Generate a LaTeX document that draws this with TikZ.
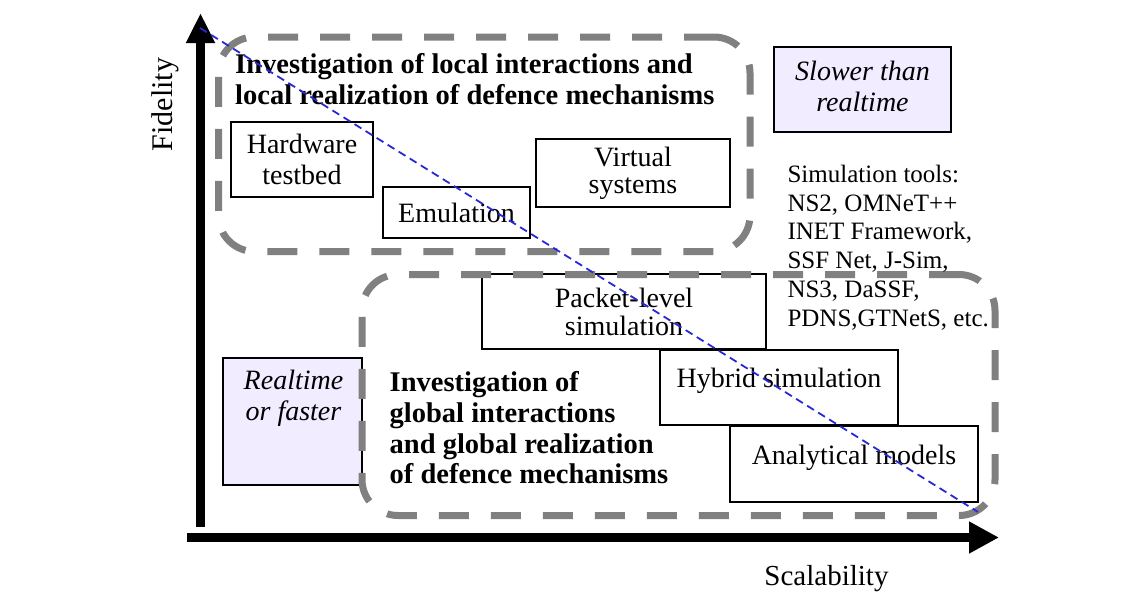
\documentclass[tikz,border=0pt]{standalone}
\usepackage{fontspec}
\setmainfont{Liberation Serif}
\usetikzlibrary{arrows.meta}
\definecolor{zonegray}{RGB}{128,128,128}
\definecolor{lav}{RGB}{241,236,255}
\definecolor{trend}{RGB}{40,40,215}
\tikzset{
  zone/.style={draw=zonegray, line width=7pt, dash pattern=on 30pt off 22pt,
    rounded corners=36pt, inner sep=0pt},
  tool/.style={draw=black, line width=2.2pt, inner sep=0pt, align=center,
    font=\rmfamily\fontsize{28}{28}\selectfont},
  single/.style={text height=19pt, text depth=19pt},
  speed/.style={draw=black, line width=2.2pt, fill=lav, inner sep=0pt},
  speedtext/.style={inner sep=0pt, align=center,
    font=\rmfamily\fontsize{28}{31}\selectfont\itshape},
  heading/.style={font=\rmfamily\fontsize{28.5}{30.7}\selectfont\bfseries,
    align=left, inner sep=0pt, anchor=north west},
  note/.style={font=\rmfamily\fontsize{25}{28.7}\selectfont, align=left,
    inner sep=0pt, anchor=north west},
  axislabel/.style={font=\rmfamily\fontsize{29}{34}\selectfont, inner sep=0pt,
    anchor=base},
  trendline/.style={draw=trend, line width=1.8pt, dash pattern=on 8pt off 5pt},
}
\begin{document}
\begin{tikzpicture}[x=1pt,y=-1pt]
\useasboundingbox (0,0) rectangle (1138,592);

% simulation approaches
\node[tool, font=\rmfamily\fontsize{28}{31}\selectfont, minimum width=142, minimum height=75] (hw) at (302,159.5) {Hardware\\testbed};
\node[tool, minimum width=147, minimum height=51] (emu) at (456.5,212.5) {Emulation};
\node[tool, font=\rmfamily\fontsize{28}{27}\selectfont, minimum width=194, minimum height=68] (virt) at (633,173) {Virtual\\systems};
\node[tool, minimum width=284, minimum height=75] (pkt) at (624,311.5) {Packet-level\\simulation};
\node[tool, single, minimum width=238, minimum height=75] (hyb) at (779,387.5) {Hybrid simulation};
\node[tool, single, minimum width=248, minimum height=76] (ana) at (854,464) {Analytical models};

% speed classes
\node[speed, minimum width=177, minimum height=85] (slow) at (862.5,89.5) {};
\node[speedtext] (slowt) at (862.5,86) {Slower than\\realtime};
\node[speed, minimum width=139, minimum height=127] (fast) at (292.5,421.5) {};
\node[speedtext] (fastt) at (293.5,398.5) {Realtime\\or faster};

% zones of local and global investigation, over the box outlines
\node[zone, minimum width=531.5, minimum height=214.5] (local) at (484.25,144.25) {};
\node[zone, minimum width=633, minimum height=241] (global) at (678.5,395) {};

% headings and tool list
\node[heading] (lochead) at (235,53.2) {Investigation of local interactions and\\local realization of defence mechanisms};
\node[heading] (globhead) at (389.5,371.5) {Investigation of\\global interactions\\and global realization\\of defence mechanisms};
\node[note] (tools) at (787.3,165) {Simulation tools:\\NS2, OMNeT++\\INET Framework,\\SSF Net, J-Sim,\\NS3, DaSSF,\\PDNS,GTNetS, etc.};

% axes
\coordinate (ybot) at (200.5,527);
\coordinate (ytop) at (200.5,13);
\coordinate (xl) at (187,537.5);
\coordinate (xr) at (999,537.5);
\draw[line width=9pt, -{Triangle[width=27pt,length=30pt]}] (ybot) -- (ytop);
\draw[line width=9.5pt, -{Triangle[width=30pt,length=30pt]}] (xl) -- (xr);
\node[axislabel, font=\rmfamily\fontsize{30}{34}\selectfont, rotate=90] (fid) at (172.5,104.5) {Fidelity};
\node[axislabel] (scal) at (826.5,585) {Scalability};

% fidelity/scalability trade-off
\coordinate (t0) at (200,28);
\coordinate (t1) at (978,512);
\draw[trendline] (t0) -- (t1);
\end{tikzpicture}
\end{document}
